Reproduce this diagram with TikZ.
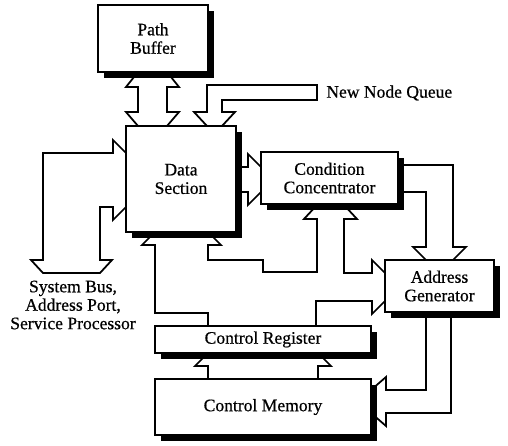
\documentclass[tikz,border=0pt]{standalone}
\usepackage{fontspec}
\setmainfont{Liberation Serif}
\newfontfamily\heavyserif[FakeBold=0.6]{Liberation Serif}
\usetikzlibrary{shadows,backgrounds}

\begin{document}
\begin{tikzpicture}[
  x=0.02cm, y=-0.02cm,
  box/.style={draw, fill=white, line width=1.1pt, inner sep=0pt, align=center,
    font=\heavyserif\fontsize{10}{10.5}\selectfont,
    drop shadow={shadow xshift=0.12cm, shadow yshift=-0.12cm, fill=black, opacity=1}},
  bus/.style={draw, fill=white, line width=1pt, line join=miter},
  lbl/.style={inner sep=0pt, align=center, font=\heavyserif\fontsize{10}{10.5}\selectfont},
]
  \useasboundingbox (0,0) rectangle (508,446);

  % Blocks
  \node[box, minimum width=2.2cm, minimum height=1.34cm] (pb) at (153,38.5) {Path\\Buffer};
  \node[box, minimum width=2.2cm, minimum height=2.12cm] (ds) at (181,179) {Data\\Section};
  \node[box, minimum width=2.74cm, minimum height=1.04cm] (cc) at (329.5,178) {Condition\\Concentrator};
  \node[box, minimum width=2.18cm, minimum height=1.04cm] (ag) at (439.5,286) {Address\\Generator};
  \node[box, minimum width=4.32cm, minimum height=0.54cm] (cr) at (263,339.5) {Control Register};
  \node[box, minimum width=4.32cm, minimum height=1.12cm] (cm) at (263,407) {Control Memory};

  % Outside labels
  \node[lbl, anchor=west] (nnq) at (326,93) {New Node Queue};
  \node[lbl] (sys) at (73,305) {System Bus,\\Address Port,\\Service Processor};

  \begin{pgfonlayer}{background}
    % Path Buffer <-> Data Section
    \draw[bus] (138,60) -- (138,72) -- (126,87) -- (138,87) -- (138,112) -- (126,112)
      -- (138,126) -- (138,135) -- (167,135) -- (167,126) -- (179,112) -- (167,112)
      -- (167,87) -- (179,87) -- (167,72) -- (167,60) -- cycle;
    % New Node Queue -> Data Section
    \draw[bus] (207,135) -- (207,126) -- (194,112) -- (207,112) -- (207,85) -- (317,85)
      -- (317,100) -- (222,100) -- (222,112) -- (235,112) -- (222,126) -- (222,135) -- cycle;
    % Data Section -> Condition Concentrator
    \draw[bus] (230,167) -- (248,167) -- (248,154) -- (261,167) -- (268,167) -- (268,192)
      -- (261,192) -- (248,205) -- (248,192) -- (230,192) -- cycle;
    % Data Section <-> system bus
    \draw[bus] (135,153) -- (126,153) -- (113,140) -- (113,153) -- (43,153) -- (43,260)
      -- (31,260) -- (43,273) -- (100,273) -- (112,260) -- (100,260) -- (100,207)
      -- (113,207) -- (113,220) -- (126,207) -- (135,207) -- cycle;
    % Control Register -> Data Section, Condition Concentrator, Address Generator
    \draw[bus] (208,335) -- (208,313) -- (155,313) -- (155,245) -- (142,245) -- (155,232)
      -- (155,225) -- (208,225) -- (208,232) -- (221,245) -- (208,245) -- (208,260)
      -- (263,260) -- (263,272) -- (317,272) -- (317,219) -- (304,219) -- (317,205)
      -- (317,198) -- (344,198) -- (344,205) -- (357,219) -- (344,219) -- (344,273)
      -- (372,273) -- (372,260) -- (385,273) -- (392,273) -- (392,301) -- (385,301)
      -- (372,314) -- (372,301) -- (316,301) -- (316,335) -- cycle;
    % Condition Concentrator -> Address Generator
    \draw[bus] (392,165) -- (453,165) -- (453,247) -- (466,247) -- (453,260) -- (453,268)
      -- (426,268) -- (426,260) -- (413,247) -- (426,247) -- (426,192) -- (392,192) -- cycle;
    % Address Generator -> Control Memory
    \draw[bus] (426,305) -- (426,390) -- (386,390) -- (386,377) -- (371,390) -- (364,390)
      -- (364,413) -- (371,413) -- (386,426) -- (386,413) -- (451,413) -- (451,305) -- cycle;
    % Control Memory -> Control Register
    \draw[bus] (208,386) -- (208,366) -- (195,366) -- (208,353) -- (208,346) -- (318,346)
      -- (318,353) -- (331,366) -- (318,366) -- (318,386) -- cycle;
  \end{pgfonlayer}
\end{tikzpicture}
\end{document}
